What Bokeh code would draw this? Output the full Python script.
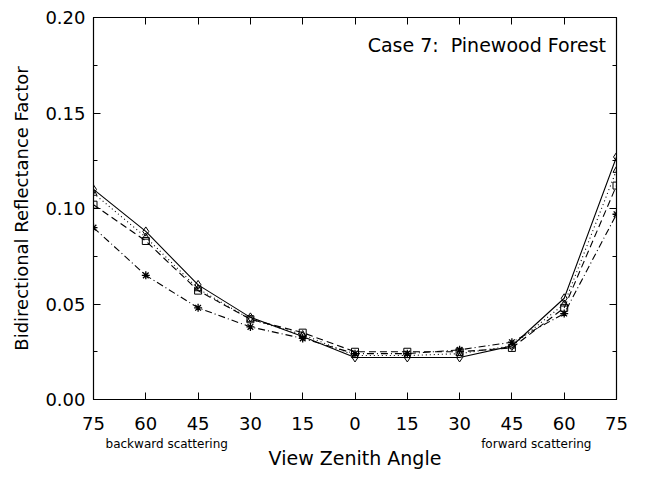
from bokeh.plotting import figure
from bokeh.models import LinearAxis, FixedTicker, Range1d, Label
from bokeh.embed import file_html
from bokeh.resources import INLINE

angles = [-75, -60, -45, -30, -15, 0, 15, 30, 45, 60, 75]
tick_labels = ["75", "60", "45", "30", "15", "0", "15", "30", "45", "60", "75"]
series_solid = [0.110, 0.088, 0.060, 0.043, 0.033, 0.022, 0.022, 0.022, 0.028, 0.053, 0.127]
series_dotted = [0.108, 0.085, 0.058, 0.042, 0.034, 0.023, 0.023, 0.024, 0.028, 0.050, 0.120]
series_dashed = [0.102, 0.083, 0.057, 0.042, 0.035, 0.025, 0.025, 0.025, 0.027, 0.048, 0.112]
series_dashdot = [0.090, 0.065, 0.048, 0.038, 0.032, 0.024, 0.024, 0.026, 0.030, 0.045, 0.097]
y_ticks = [0.0, 0.05, 0.10, 0.15, 0.20]
y_labels = ["0.00", "0.05", "0.10", "0.15", "0.20"]
y_minor = [0.025, 0.075, 0.125, 0.175]

FONT = "DejaVu Sans"

p = figure(width=657, height=477, output_backend="svg", toolbar_location=None,
           x_range=Range1d(-75, 75), y_range=Range1d(0, 0.20),
           x_axis_location=None, y_axis_location=None,
           min_border_left=93, min_border_right=41, min_border_top=17, min_border_bottom=78,
           frame_width=523, frame_height=382)
p.grid.visible = False
p.outline_line_color = "black"
p.outline_line_width = 1.2
p.background_fill_color = "white"
p.border_fill_color = "white"

def style_axis(ax):
    ax.major_tick_in = 7
    ax.major_tick_out = 0
    ax.minor_tick_in = 4
    ax.minor_tick_out = 0
    ax.axis_line_color = "black"
    ax.major_tick_line_color = "black"
    ax.minor_tick_line_color = "black"
    ax.major_label_text_font = FONT
    ax.major_label_text_color = "black"

# bottom axis
xb = LinearAxis(ticker=FixedTicker(ticks=angles, minor_ticks=[]))
xb.major_label_overrides = {a: l for a, l in zip(angles, tick_labels)}
style_axis(xb)
xb.major_label_text_font_size = "18px"
xb.major_label_standoff = 17
p.add_layout(xb, "below")

# secondary bottom axis for scattering labels and title
xs = LinearAxis(ticker=FixedTicker(ticks=[-54, 52], minor_ticks=[]))
xs.major_label_overrides = {-54: "backward scattering", 52: "forward scattering"}
xs.axis_line_color = None
xs.major_tick_line_color = None
xs.minor_tick_line_color = None
xs.major_label_text_font = FONT
xs.major_label_text_color = "black"
xs.major_label_text_font_size = "12px"
xs.major_label_standoff = -2
xs.axis_label = "View Zenith Angle"
xs.axis_label_text_font = FONT
xs.axis_label_text_color = "black"
xs.axis_label_text_font_style = "normal"
xs.axis_label_text_font_size = "19px"
xs.axis_label_standoff = -7
p.add_layout(xs, "below")

# top and right: ticks only
xt = LinearAxis(ticker=FixedTicker(ticks=angles, minor_ticks=[]))
style_axis(xt)
xt.major_label_overrides = {a: "" for a in angles}
p.add_layout(xt, "above")

yl = LinearAxis(ticker=FixedTicker(ticks=y_ticks, minor_ticks=y_minor))
yl.major_label_overrides = {t: l for t, l in zip(y_ticks, y_labels)}
style_axis(yl)
yl.major_label_text_font_size = "18px"
yl.major_label_standoff = 8
yl.axis_label = "Bidirectional Reflectance Factor"
yl.axis_label_text_font = FONT
yl.axis_label_text_color = "black"
yl.axis_label_text_font_style = "normal"
yl.axis_label_text_font_size = "18px"
yl.axis_label_standoff = 10
p.add_layout(yl, "left")

yr = LinearAxis(ticker=FixedTicker(ticks=y_ticks, minor_ticks=y_minor))
style_axis(yr)
yr.major_label_overrides = {t: "" for t in y_ticks}
p.add_layout(yr, "right")

p.line(angles, series_solid, line_color="black", line_width=1.1)
p.scatter(angles, series_solid, marker="diamond", size=9, line_color="black", fill_color=None)

p.line(angles, series_dotted, line_color="black", line_width=1.1, line_dash="1 3")
p.scatter(angles, series_dotted, marker="triangle", size=7, line_color="black", fill_color=None)

p.line(angles, series_dashed, line_color="black", line_width=1.1, line_dash="7 4")
p.scatter(angles, series_dashed, marker="square", size=7, line_color="black", fill_color=None)

p.line(angles, series_dashdot, line_color="black", line_width=1.1, line_dash="7 3 1 3")
p.scatter(angles, series_dashdot, marker="asterisk", size=8, line_color="black", line_width=1.3)

p.add_layout(Label(x=72, y=0.1855, text="Case 7:\u00a0\u00a0Pinewood Forest", text_font=FONT,
                   text_font_size="19px", text_align="right", text_baseline="middle",
                   text_color="black"))

open("out.html", "w").write(file_html(p, INLINE))
